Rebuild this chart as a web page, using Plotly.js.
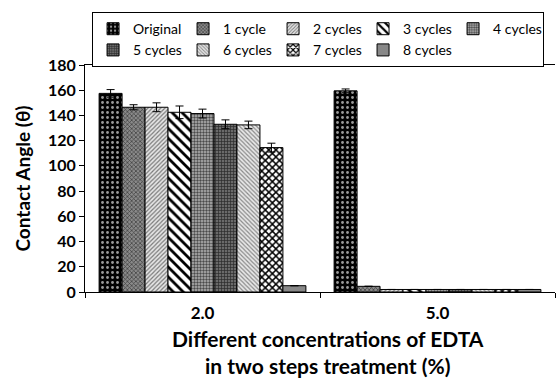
<!DOCTYPE html>
<html><head><meta charset="utf-8">
<script src="https://cdn.plot.ly/plotly-3.0.1.min.js"></script>
<style>html,body{margin:0;padding:0;background:#fff}</style>
</head><body><div id="chart" style="width:558px;height:380px"></div>
<script>
const categories = ["2.0", "5.0"];
const seriesNames = ["Original","1 cycle","2 cycles","3 cycles","4 cycles","5 cycles","6 cycles","7 cycles","8 cycles"];
const original = [157.5, 159.5];
const cycle1 = [146.5, 4.5];
const cycle2 = [146.5, 2];
const cycle3 = [142.5, 2];
const cycle4 = [141.5, 2];
const cycle5 = [133, 2];
const cycle6 = [132.5, 2];
const cycle7 = [114.5, 2];
const cycle8 = [5, 2];
const err1 = [3, 1.5];
const errC1 = [2, 0];
const errC2 = [3.5, 0];
const errC3 = [5, 0];
const errC4 = [3.5, 0];
const errC5 = [3.5, 0];
const errC6 = [3, 0];
const errC7 = [3.5, 0];
const errC8 = [0, 0];
const yTicks = [0,20,40,60,80,100,120,140,160,180];

const values = [original,cycle1,cycle2,cycle3,cycle4,cycle5,cycle6,cycle7,cycle8];
const errs = [err1,errC1,errC2,errC3,errC4,errC5,errC6,errC7,errC8];
const styles = [
  {shape:".", fg:"#9a9a9a", bg:"#000000", size:5, sol:0.25},
  {shape:"x", fg:"#3a3a3a", bg:"#8a8a8a", size:3, sol:0.4},
  {shape:"/", fg:"#7a7a7a", bg:"#e6e6e6", size:3, sol:0.4},
  {shape:"\\", fg:"#000000", bg:"#ffffff", size:7, sol:0.4},
  {shape:".", fg:"#4a4a4a", bg:"#b5b5b5", size:3, sol:0.5},
  {shape:"+", fg:"#2a2a2a", bg:"#6a6a6a", size:3, sol:0.4},
  {shape:"\\", fg:"#8a8a8a", bg:"#e8e8e8", size:3, sol:0.4},
  {shape:"x", fg:"#000000", bg:"#ffffff", size:5, sol:0.5},
  {shape:"", fg:"#888888", bg:"#888888", size:3, sol:0.3}
];
const traces = seriesNames.map((n,i)=>({
  type:"bar", name:n, x:categories, y:values[i],
  marker:{color:styles[i].bg, line:{color:"#000", width:1},
    pattern:{shape:styles[i].shape, fgcolor:styles[i].fg, bgcolor:styles[i].bg, size:styles[i].size, solidity:styles[i].sol, fillmode:"replace"}},
  error_y:{type:"data", array:errs[i], visible:true, color:"#000", thickness:1, width:4}
}));
const F = "Lato, 'Open Sans', sans-serif";
const layout = {
  width:558, height:380,
  margin:{l:85, r:3, t:65, b:88},
  paper_bgcolor:"#fff", plot_bgcolor:"#fff",
  barmode:"group", bargap:0.12, bargroupgap:0,
  font:{family:F, color:"#000"},
  showlegend:true,
  legend:{orientation:"h", x:0.015, y:1.233, xanchor:"left", yanchor:"top",
    bordercolor:"#000", borderwidth:1, font:{size:14, family:F},
    entrywidth:45, entrywidthmode:"pixels", itemwidth:30},
  xaxis:{type:"category", showline:true, linecolor:"#000", linewidth:1, mirror:true,
    ticks:"outside", tickson:"boundaries", ticklen:5, tickcolor:"#000", ticklabelstandoff:6,
    tickfont:{size:17, family:F, weight:"bold"}, range:[-0.5,1.5]},
  yaxis:{range:[0,180], tickvals:yTicks, showline:true, linecolor:"#000", linewidth:1,
    ticks:"outside", ticklen:5, tickcolor:"#000", showgrid:false, zeroline:false,
    tickfont:{size:16, family:F, weight:"bold"},
    title:{text:"Contact Angle (θ)", font:{size:19, family:F, weight:"bold"}, standoff:12}},
  annotations:[{xref:"paper", yref:"paper", x:0.517, y:-0.14, xanchor:"center", yanchor:"top",
    text:"Different concentrations of EDTA<br>in two steps treatment (%)", showarrow:false,
    font:{size:21, family:F, weight:"bold"}}]
};
Plotly.newPlot("chart", traces, layout, {displayModeBar:false, staticPlot:true});
</script></body></html>
